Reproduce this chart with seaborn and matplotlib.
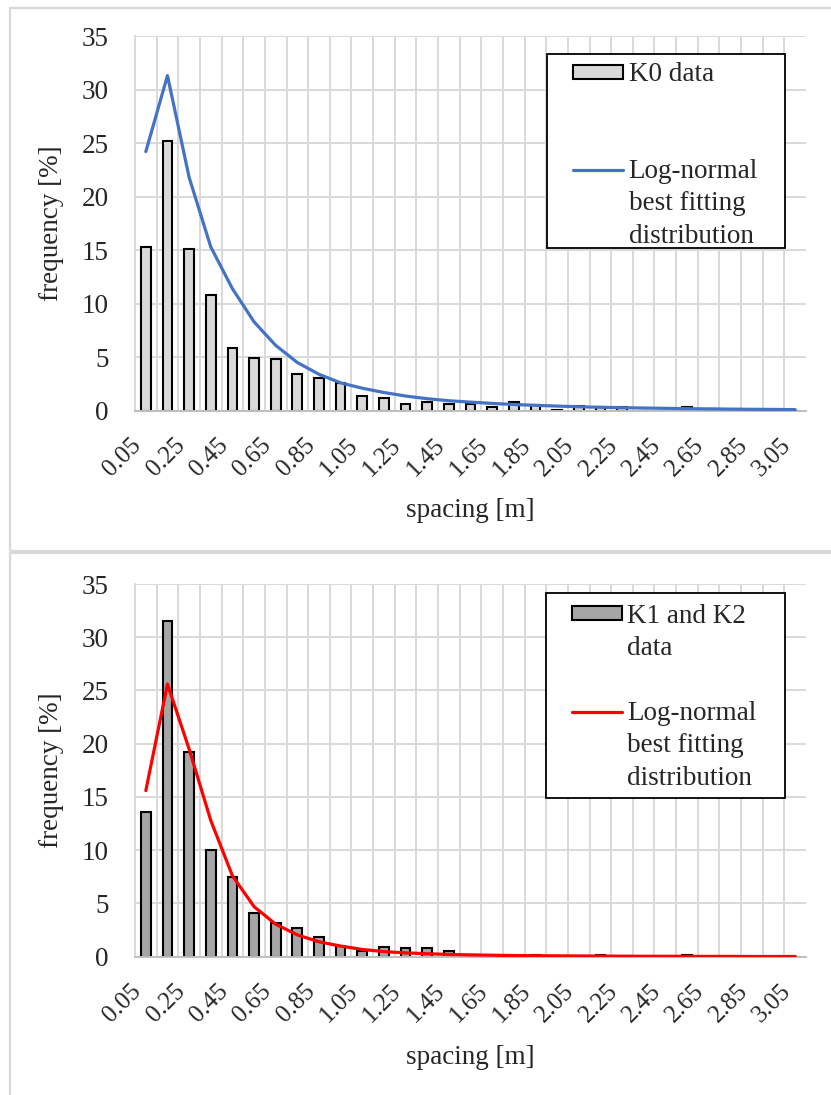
import numpy as np
import matplotlib.pyplot as plt
import seaborn as sns
from matplotlib.patches import Patch, Rectangle
from matplotlib.lines import Line2D
from matplotlib.transforms import ScaledTranslation

# spacing classes [m]
spacing = ["0.05", "0.15", "0.25", "0.35", "0.45", "0.55", "0.65", "0.75",
           "0.85", "0.95", "1.05", "1.15", "1.25", "1.35", "1.45", "1.55",
           "1.65", "1.75", "1.85", "1.95", "2.05", "2.15", "2.25", "2.35",
           "2.45", "2.55", "2.65", "2.75", "2.85", "2.95", "3.05"]

# K0 set: observed frequency [%] and log-normal fit
k0_freq = [15.3, 25.2, 15.1, 10.8, 5.9, 4.9, 4.8, 3.4, 3.1, 2.6,
           1.35, 1.15, 0.6, 0.8, 0.6, 0.6, 0.35, 0.8, 0.55, 0.1,
           0.45, 0.35, 0.35, 0.0, 0.0, 0.35, 0.0, 0.0, 0.0, 0.0, 0.0]
k0_fit = [24.2, 31.3, 21.8, 15.3, 11.4, 8.3, 6.1, 4.5, 3.4, 2.6,
          2.1, 1.7, 1.37, 1.12, 0.93, 0.8, 0.68, 0.58, 0.5, 0.43,
          0.37, 0.32, 0.28, 0.25, 0.22, 0.19, 0.17, 0.15, 0.13, 0.12, 0.1]

# K1 and K2 sets
k12_freq = [13.6, 31.55, 19.2, 10.0, 7.5, 4.07, 3.13, 2.72, 1.82, 1.0,
            0.56, 0.88, 0.8, 0.8, 0.55, 0.2, 0.1, 0.0, 0.15, 0.0,
            0.0, 0.2, 0.0, 0.0, 0.0, 0.2, 0.0, 0.0, 0.0, 0.0, 0.0]
k12_fit = [15.6, 25.6, 19.5, 12.8, 7.6, 4.7, 3.05, 2.05, 1.4, 1.0,
           0.68, 0.48, 0.36, 0.28, 0.21, 0.17, 0.14, 0.11, 0.09, 0.08,
           0.07, 0.06, 0.05, 0.04, 0.04, 0.03, 0.03, 0.03, 0.02, 0.02, 0.02]

sns.set_style("white")
plt.rcParams["font.family"] = ["Liberation Serif", "DejaVu Serif"]
plt.rcParams["font.size"] = 19.5

GRID = "#d9d9d9"


def draw_panel(fig, ax, freq, fit, bar_color, line_color, data_labels):
    idx = np.arange(len(spacing))
    sns.barplot(x=idx, y=freq, color=bar_color, width=0.45,
                edgecolor="black", linewidth=1.5, saturation=1, ax=ax, zorder=2)
    sns.lineplot(x=idx, y=fit, color=line_color, linewidth=2.3, ax=ax, zorder=3)

    ax.set_xlim(-0.5, len(spacing) - 0.5)
    ax.set_ylim(0, 35)
    ax.set_yticks(range(0, 36, 5))
    ax.set_xticks(idx[::2])
    ax.set_xticklabels(spacing[::2], rotation=45, ha="right", va="top",
                       fontsize=18)
    shift = ScaledTranslation(14 / 72, 0, fig.dpi_scale_trans)
    for lab in ax.get_xticklabels():
        lab.set_transform(lab.get_transform() + shift)
    ax.set_xticks(idx[:-1] + 0.5, minor=True)
    ax.tick_params(axis="x", which="both", length=0, pad=16.5)
    ax.tick_params(axis="y", length=0, pad=19)

    ax.grid(False)
    ax.grid(axis="y", which="major", color=GRID, linewidth=1.4, zorder=0)
    ax.grid(axis="x", which="minor", color=GRID, linewidth=1.4, zorder=0)
    ax.set_axisbelow(True)
    for side in ["top", "right"]:
        ax.spines[side].set_visible(False)
    ax.spines["left"].set_color(GRID)
    ax.spines["left"].set_linewidth(1.4)
    ax.spines["bottom"].set_color("#bfbfbf")
    ax.spines["bottom"].set_linewidth(1.4)

    ax.set_ylabel("frequency [%]")
    ax.set_xlabel("spacing [m]")
    ax.yaxis.set_label_coords(-0.106, 0.5)

    # Excel-like legend rows
    blank = Patch(facecolor="none", edgecolor="none")
    handles = [Patch(facecolor=bar_color, edgecolor="black", linewidth=1.5),
               blank, blank,
               Line2D([], [], color=line_color, linewidth=2.3),
               blank, blank]
    labels = data_labels + [" "] * (3 - len(data_labels)) + \
        ["Log-normal", "best fitting", "distribution"]
    return handles, labels


fig = plt.figure(figsize=(8.31, 10.95), dpi=100)

# panel frames
fig.patches.append(Rectangle((10 / 831, 1 - 551 / 1095), 1.0, 543 / 1095,
                             transform=fig.transFigure, fill=False,
                             edgecolor=GRID, linewidth=1.6))
fig.patches.append(Rectangle((10 / 831, -0.05), 1.0, 1 - 553 / 1095 + 0.05,
                             transform=fig.transFigure, fill=False,
                             edgecolor=GRID, linewidth=1.6))

ax1 = fig.add_axes([135 / 831, 1 - 410.7 / 1095, 671 / 831, 374.7 / 1095])
ax2 = fig.add_axes([135 / 831, 1 - 956.7 / 1095, 671 / 831, 372.7 / 1095])

h1, l1 = draw_panel(fig, ax1, k0_freq, k0_fit, "#d9d9d9", "#4472c4", ["K0 data"])
h2, l2 = draw_panel(fig, ax2, k12_freq, k12_fit, "#a6a6a6", "#ff0000",
                    ["K1 and K2", "data"])
ax1.xaxis.set_label_coords(0.5, -0.232)
ax2.xaxis.set_label_coords(0.5, -0.238)

for ax, h, l, box, anchor in [
        (ax1, h1, l1, (0.614, 0.434, 0.355, 0.518), (0.653, 0.930)),
        (ax2, h2, l2, (0.612, 0.426, 0.357, 0.549), (0.651, 0.946))]:
    ax.add_patch(Rectangle(box[:2], box[2], box[3], transform=ax.transAxes,
                           facecolor="white", edgecolor="black",
                           linewidth=1.3, zorder=4))
    leg = ax.legend(h, l, loc="upper left", bbox_to_anchor=anchor,
                    frameon=False, borderpad=0, borderaxespad=0,
                    handlelength=1.85, handleheight=0.42, handletextpad=0.2,
                    labelspacing=0.27)
    leg.set_zorder(5)

plt.savefig("out.png", dpi=100)
plt.close()
